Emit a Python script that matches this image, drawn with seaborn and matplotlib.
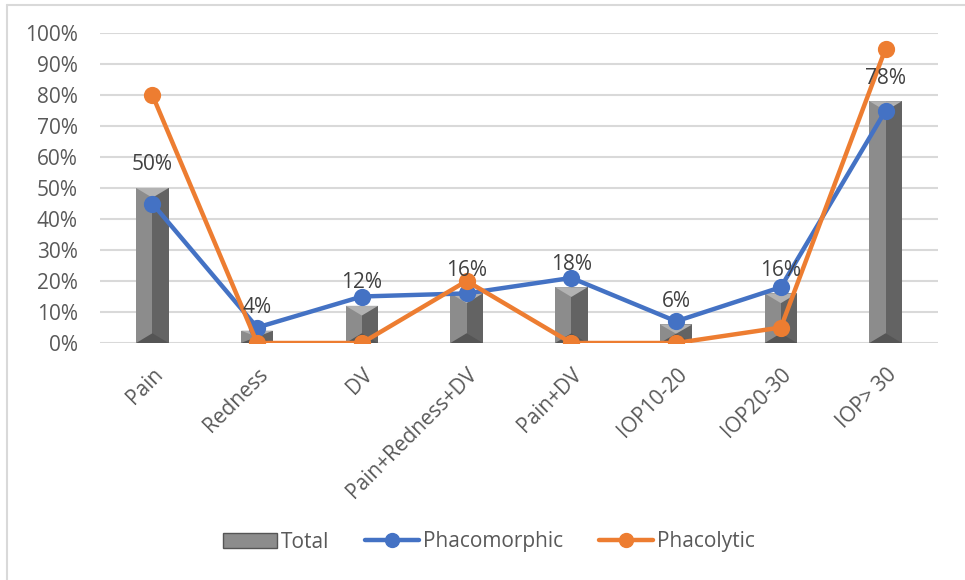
import numpy as np
import pandas as pd
import matplotlib
matplotlib.use("Agg")
import matplotlib.pyplot as plt
from matplotlib.patches import Polygon, Patch
from matplotlib.lines import Line2D
from matplotlib.transforms import ScaledTranslation
import seaborn as sns

categories = ["Pain", "Redness", "DV", "Pain+Redness+DV", "Pain+DV",
              "IOP10-20", "IOP20-30", "IOP> 30"]
total = [50, 4, 12, 16, 18, 6, 16, 78]
phacomorphic = [45, 5, 15, 16, 21, 7, 18, 75]
phacolytic = [80, 0, 0, 20, 0, 0, 5, 95]
y_ticks = [0, 10, 20, 30, 40, 50, 60, 70, 80, 90, 100]

sns.set_style("white")
plt.rcParams["font.family"] = ["Open Sans", "DejaVu Sans"]

df = pd.DataFrame({"cat": categories, "Total": total,
                   "Phacomorphic": phacomorphic, "Phacolytic": phacolytic})

fig = plt.figure(figsize=(9.65, 5.8), dpi=100)
ax = fig.add_axes([100 / 965, 1 - 343 / 580, 838 / 965, 310 / 580])

text_col = "#595959"
blue = "#4472c4"
orange = "#ed7d31"
fs = 15

sns.barplot(data=df, x="cat", y="Total", ax=ax, color="#8c8c8c",
            width=0.31, saturation=1, linewidth=0, zorder=2)
ax.set_xlim(-0.5, len(categories) - 0.5)
ax.set_ylim(0, 100)

# bevel faces for each bar, built from the bar patches
fig.canvas.draw()
inv = ax.transData.inverted()
for p in list(ax.patches):
    x0, y0 = p.get_x(), p.get_y()
    w, h = p.get_width(), p.get_height()
    (px0, py0) = ax.transData.transform((x0, y0))
    (px1, py1) = ax.transData.transform((x0 + w, y0 + h))
    pw, ph = px1 - px0, py1 - py0
    d = min(pw * 0.3, ph / 2)
    cx = (px0 + px1) / 2

    right = inv.transform(np.array([(cx, py0), (px1, py0), (px1, py1), (cx, py1)]))
    top = inv.transform(np.array([(px0, py1), (px1, py1), (cx, py1 - d)]))
    bottom = inv.transform(np.array([(px0, py0), (px1, py0), (cx, py0 + d)]))
    ax.add_patch(Polygon(right, closed=True, fc="#636363", ec="none", zorder=2.1))
    ax.add_patch(Polygon(top, closed=True, fc="#b2b2b2", ec="none", zorder=2.2))
    ax.add_patch(Polygon(bottom, closed=True, fc="#555555", ec="none", zorder=2.2))

for c in ax.containers:
    ax.bar_label(c, labels=[f"{v}%" for v in total], padding=9,
                 fontsize=fs, color="#404040", zorder=5)

sns.pointplot(data=df, x="cat", y="Phacomorphic", ax=ax, color=blue,
              markers="o", markersize=10, linewidth=3.2, zorder=3)
sns.pointplot(data=df, x="cat", y="Phacolytic", ax=ax, color=orange,
              markers="o", markersize=10, linewidth=3.2, zorder=4)
for ln in ax.lines:
    ln.set_solid_capstyle("round")

ax.set_xlim(-0.5, len(categories) - 0.5)
ax.set_ylim(0, 100)
ax.set_yticks(y_ticks)
ax.set_yticklabels([f"{t}%" for t in y_ticks], fontsize=fs, color=text_col)
ax.set_xticks(range(len(categories)))
ax.set_xticklabels(categories, rotation=45, ha="right", rotation_mode="anchor",
                   fontsize=fs, color=text_col)
shift = ScaledTranslation(-5 / 72, 0, fig.dpi_scale_trans)
for lab in ax.get_xticklabels():
    lab.set_transform(lab.get_transform() + shift)
ax.tick_params(axis="y", length=0, pad=16)
ax.tick_params(axis="x", length=0, pad=15)
ax.set_xlabel("")
ax.set_ylabel("")
ax.yaxis.grid(True, color="#d9d9d9", linewidth=1.5, zorder=0)
ax.set_axisbelow(True)
for s in ax.spines.values():
    s.set_visible(False)

# chart frame (only left and top edges visible)
fig.add_artist(Line2D([7 / 965, 7 / 965], [0, 1 - 5 / 580], color="#d9d9d9", lw=1.5))
fig.add_artist(Line2D([7 / 965, 1], [1 - 5 / 580, 1 - 5 / 580], color="#d9d9d9", lw=1.5))

handles = [
    Patch(facecolor="#8c8c8c", edgecolor="#555555", label="Total"),
    Line2D([0], [0], color=blue, lw=3.2, marker="o", markersize=10, label="Phacomorphic"),
    Line2D([0], [0], color=orange, lw=3.2, marker="o", markersize=10, label="Phacolytic"),
]
fig.legend(handles=handles, loc="center", bbox_to_anchor=(489 / 965, 1 - 542 / 580),
           ncol=3, frameon=False, fontsize=fs, labelcolor=text_col,
           handlelength=2.6, handletextpad=0.2, columnspacing=1.7)

fig.savefig("out.png", dpi=100)
